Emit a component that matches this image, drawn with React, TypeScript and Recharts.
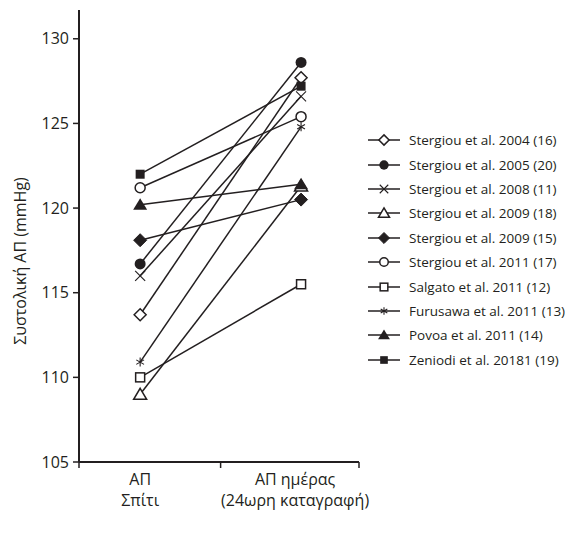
import React from 'react';
import { LineChart, Line, XAxis, YAxis } from 'recharts';

const studies = [
  'Stergiou et al. 2004 (16)',
  'Stergiou et al. 2005 (20)',
  'Stergiou et al. 2008 (11)',
  'Stergiou et al. 2009 (18)',
  'Stergiou et al. 2009 (15)',
  'Stergiou et al. 2011 (17)',
  'Salgato et al. 2011 (12)',
  'Furusawa et al. 2011 (13)',
  'Povoa et al. 2011 (14)',
  'Zeniodi et al. 20181 (19)',
];
const homeBP = [113.7, 116.7, 116.0, 109.0, 118.1, 121.2, 110.0, 110.9, 120.2, 122.0];
const dayBP = [127.7, 128.6, 126.6, 121.3, 120.5, 125.4, 115.5, 124.8, 121.4, 127.2];
const markers = [
  'diamondOpen',
  'circleFilled',
  'cross',
  'triangleOpen',
  'diamondFilled',
  'circleOpen',
  'squareOpen',
  'asterisk',
  'triangleFilled',
  'squareFilled',
];
const categoryLines = [
  ['ΑΠ', 'Σπίτι'],
  ['ΑΠ ημέρας', '(24ωρη καταγραφή)'],
];
const categoryPos = [1, 2];
const yTicks = [105, 110, 115, 120, 125, 130];
const yLabel = 'Συστολική ΑΠ (mmHg)';

const INK = '#231f20';
const FONT = '"Open Sans", sans-serif';

const data = categoryPos.map((pos, ci) => {
  const row: any = { pos };
  studies.forEach((_, si) => {
    row['s' + si] = ci === 0 ? homeBP[si] : dayBP[si];
  });
  return row;
});

function Marker({ cx, cy, type, k = 1 }: any) {
  const sw = 1.5;
  switch (type) {
    case 'diamondOpen': {
      const r = 6 * k;
      return <polygon points={`${cx},${cy - r} ${cx + r},${cy} ${cx},${cy + r} ${cx - r},${cy}`} fill="#fff" stroke={INK} strokeWidth={sw} />;
    }
    case 'diamondFilled': {
      const r = 6.5 * k;
      return <polygon points={`${cx},${cy - r} ${cx + r},${cy} ${cx},${cy + r} ${cx - r},${cy}`} fill={INK} stroke={INK} strokeWidth={1} />;
    }
    case 'circleFilled':
      return <circle cx={cx} cy={cy} r={5.5 * k} fill={INK} />;
    case 'circleOpen':
      return <circle cx={cx} cy={cy} r={5 * k} fill="#fff" stroke={INK} strokeWidth={sw} />;
    case 'cross': {
      const r = 5 * k;
      return (
        <g stroke={INK} strokeWidth={1.1}>
          <line x1={cx - r} y1={cy - r} x2={cx + r} y2={cy + r} />
          <line x1={cx - r} y1={cy + r} x2={cx + r} y2={cy - r} />
        </g>
      );
    }
    case 'triangleOpen': {
      const w = 6.5 * k;
      return <polygon points={`${cx},${cy - 6 * k} ${cx + w},${cy + 5 * k} ${cx - w},${cy + 5 * k}`} fill="#fff" stroke={INK} strokeWidth={sw} />;
    }
    case 'triangleFilled': {
      const w = 7 * k;
      return <polygon points={`${cx},${cy - 6.5 * k} ${cx + w},${cy + 5 * k} ${cx - w},${cy + 5 * k}`} fill={INK} />;
    }
    case 'squareOpen': {
      const r = 4.5 * k;
      return <rect x={cx - r} y={cy - r} width={2 * r} height={2 * r} fill="#fff" stroke={INK} strokeWidth={sw} />;
    }
    case 'squareFilled': {
      const r = 4.5 * k;
      return <rect x={cx - r} y={cy - r} width={2 * r} height={2 * r} fill={INK} />;
    }
    case 'asterisk': {
      const r = 4.5 * k;
      const lines = [0, 60, 120].map((a) => {
        const rad = (a * Math.PI) / 180;
        const dx = Math.sin(rad) * r;
        const dy = Math.cos(rad) * r;
        return <line key={a} x1={cx - dx} y1={cy - dy} x2={cx + dx} y2={cy + dy} />;
      });
      return <g stroke={INK} strokeWidth={1.1}>{lines}</g>;
    }
    default:
      return null;
  }
}

const XTick = (props: any) => {
  const { x, y, payload } = props;
  const v = payload.value;
  const idx = categoryPos.indexOf(v);
  if (idx >= 0) {
    const lines = categoryLines[idx];
    const dx = idx === 1 ? -6 : 0;
    return (
      <g>
        {lines.map((t, i) => (
          <text key={i} x={x + dx} y={y + 23 + i * 21} textAnchor="middle" fill={INK} fontSize={16} fontFamily={FONT}>
            {t}
          </text>
        ))}
      </g>
    );
  }
  return <line x1={x} y1={y} x2={x} y2={y + 6} stroke={INK} strokeWidth={1.5} />;
};

const YLabel = (props: any) => {
  const vb = props.viewBox || { x: 0, y: 2, width: 71, height: 482 };
  const cx = 12;
  const cy = vb.y + vb.height / 2 + 25;
  return (
    <text x={cx} y={cy} transform={`rotate(-90 ${cx} ${cy})`} textAnchor="middle" dominantBaseline="central" fill={INK} fontSize={16} fontFamily={FONT}>
      {yLabel}
    </text>
  );
};

function LegendBox() {
  return (
    <div style={{ position: 'absolute', left: 360, top: 120, fontFamily: FONT, fontSize: 13.5, color: INK }}>
      {studies.map((s, i) => (
        <div key={s} style={{ display: 'flex', alignItems: 'center', height: 24.4, whiteSpace: 'nowrap' }}>
          <svg width={34} height={16} style={{ marginRight: 7, overflow: 'visible' }}>
            <line x1={0} y1={8} x2={32} y2={8} stroke={INK} strokeWidth={1.5} />
            <Marker cx={16} cy={8} type={markers[i]} k={0.85} />
          </svg>
          <span>{s}</span>
        </div>
      ))}
    </div>
  );
}

export default function App() {
  return (
    <div style={{ position: 'relative', width: 557, height: 522 }}>
      <LineChart width={557} height={522} data={data} margin={{ top: 2, right: 206, bottom: 38, left: 0 }} style={{ overflow: 'visible' }}>
        <XAxis
          dataKey="pos"
          type="number"
          domain={[0.62, 2.36]}
          ticks={[0.62, 1, 1.5, 2, 2.36]}
          allowDataOverflow
          tick={<XTick />}
          tickLine={false}
          tickSize={0}
          tickMargin={0}
          axisLine={{ stroke: INK, strokeWidth: 2 }}
          interval={0}
        />
        <YAxis
          type="number"
          domain={[105, 131.7]}
          ticks={yTicks}
          allowDataOverflow
          width={71}
          tickSize={6}
          tickMargin={4}
          tick={{ fill: INK, fontSize: 16, fontFamily: FONT }}
          tickLine={{ stroke: INK, strokeWidth: 1.5 }}
          axisLine={{ stroke: INK, strokeWidth: 2 }}
          interval={0}
          label={<YLabel />}
        />
        {studies.map((s, si) => (
          <Line
            key={s}
            dataKey={'s' + si}
            name={s}
            stroke={INK}
            strokeWidth={1.5}
            isAnimationActive={false}
            dot={(p: any) => <Marker key={`${si}-${p.index}`} cx={p.cx} cy={p.cy} type={markers[si]} />}
            activeDot={false}
          />
        ))}
      </LineChart>
      <LegendBox />
    </div>
  );
}
